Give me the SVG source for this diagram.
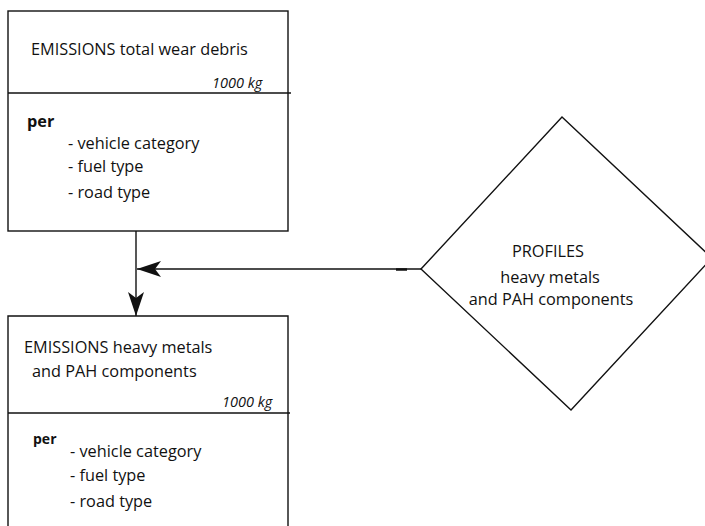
<svg xmlns="http://www.w3.org/2000/svg" width="705" height="526" viewBox="0 0 705 526">
<style>
text{font-family:"Open Sans","Liberation Sans",sans-serif;font-size:16.3px;fill:#111}
.it{font-style:italic;font-size:14.5px}
.b{font-weight:bold}
.sm{font-size:14px}
.box{fill:#fff;stroke:#111;stroke-width:1.4}
.ln{stroke:#111;stroke-width:1.4;fill:none}
.mid{text-anchor:middle}
</style>
<defs>
<marker id="ah" viewBox="0 0 24 16" refX="24" refY="8" markerWidth="24" markerHeight="16" markerUnits="userSpaceOnUse" orient="auto">
<path d="M0,0 L24,8 L0,16 L6,8 Z" fill="#111"/>
</marker>
</defs>
<g id="connectors">
<line class="ln" x1="136" y1="231" x2="136" y2="316" marker-end="url(#ah)"/>
<line class="ln" x1="421" y1="269" x2="137" y2="269" marker-end="url(#ah)"/>
<line x1="396" y1="269.5" x2="407" y2="269.5" stroke="#111" stroke-width="2.5"/>
</g>
<g id="emissions-total">
<rect class="box" x="8" y="11" width="280" height="220"/>
<line class="ln" x1="8" y1="93" x2="291" y2="93"/>
<text x="31" y="55">EMISSIONS total wear debris</text>
<text class="it" x="212" y="88">1000 kg</text>
<text class="b" x="27" y="127">per</text>
<text x="68" y="149">- vehicle category</text>
<text x="68" y="172">- fuel type</text>
<text x="68" y="198">- road type</text>
</g>
<g id="profiles">
<polygon class="box" points="562,117 712,258 571,410 421,269"/>
<text class="mid" x="548" y="257">PROFILES</text>
<text class="mid" x="550" y="283">heavy metals</text>
<text class="mid" x="551" y="305">and PAH components</text>
</g>
<g id="emissions-metals">
<path class="box" d="M8,530 L8,316 L288,316 L288,530"/>
<line class="ln" x1="8" y1="413" x2="290" y2="413"/>
<text x="24" y="353">EMISSIONS heavy metals</text>
<text x="32" y="377">and PAH components</text>
<text class="it" x="222" y="407">1000 kg</text>
<text class="b sm" x="33" y="444">per</text>
<text x="70" y="457">- vehicle category</text>
<text x="70" y="481">- fuel type</text>
<text x="70" y="507">- road type</text>
</g>
</svg>
